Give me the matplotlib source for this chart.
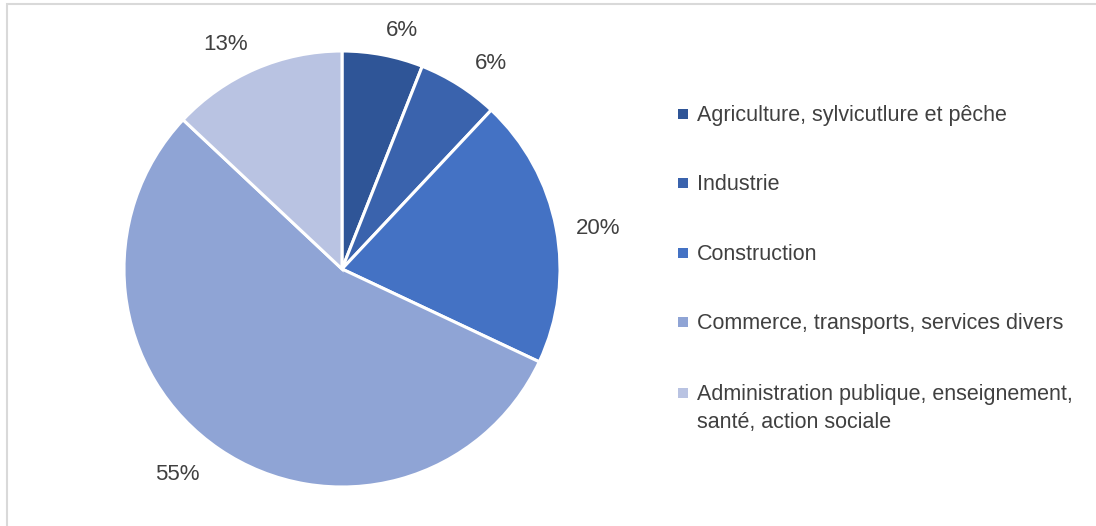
import matplotlib
matplotlib.use("Agg")
import matplotlib.pyplot as plt
from matplotlib.patches import Rectangle

# Sector shares (%)
sectors = [
    "Agriculture, sylvicutlure et pêche",
    "Industrie",
    "Construction",
    "Commerce, transports, services divers",
    "Administration publique, enseignement,\nsanté, action sociale",
]
shares = [6, 6, 20, 55, 13]
colors = ["#2F5597", "#3A63AD", "#4472C4", "#8FA4D5", "#B9C3E2"]

plt.rcParams["font.family"] = ["Liberation Sans", "DejaVu Sans"]
text_color = "#404040"

W, H = 1096, 526
fig = plt.figure(figsize=(W / 100, H / 100), dpi=100)

# light gray chart frame
fig.patches.append(Rectangle((7 / W, -0.1), 1.2, 1 - 4 / H + 0.1, transform=fig.transFigure,
                             fill=False, edgecolor="#D9D9D9", linewidth=1.5))

cx, cy, r = 342, 269, 218
ax = fig.add_axes([(cx - r) / W, (H - cy - r) / H, 2 * r / W, 2 * r / H])
wedges, _, autotexts = ax.pie(
    shares, colors=colors, startangle=90, counterclock=False,
    autopct=lambda p: f"{p:.0f}%", pctdistance=1.17,
    wedgeprops=dict(edgecolor="white", linewidth=2.2),
    textprops=dict(color=text_color, fontsize=16),
)
ax.set_xlim(-1, 1)
ax.set_ylim(-1, 1)
ax.set_aspect("equal")
ax.axis("off")

# small per-label nudges (pixels, x right / y down) for the "best fit" placement
nudges = [(12, 12), (12, 10), (6, 7), (-21, -5), (-15, 10)]
for t, (dx, dy) in zip(autotexts, nudges):
    x, y = t.get_position()
    t.set_position((x + dx / r, y - dy / r))

# legend drawn as squares + labels, one row per sector
rows_y = [114, 183, 253, 322, 393]
sq = 10
for y, c, name in zip(rows_y, colors, sectors):
    fig.patches.append(Rectangle((678 / W, 1 - (y + sq / 2) / H), sq / W, sq / H,
                                 transform=fig.transFigure, facecolor=c, edgecolor="none"))
    fig.text(697 / W, 1 - (y - 9) / H, name, ha="left", va="top", fontsize=15.5,
             color=text_color, linespacing=1.45)

fig.savefig("out.png", dpi=100)
